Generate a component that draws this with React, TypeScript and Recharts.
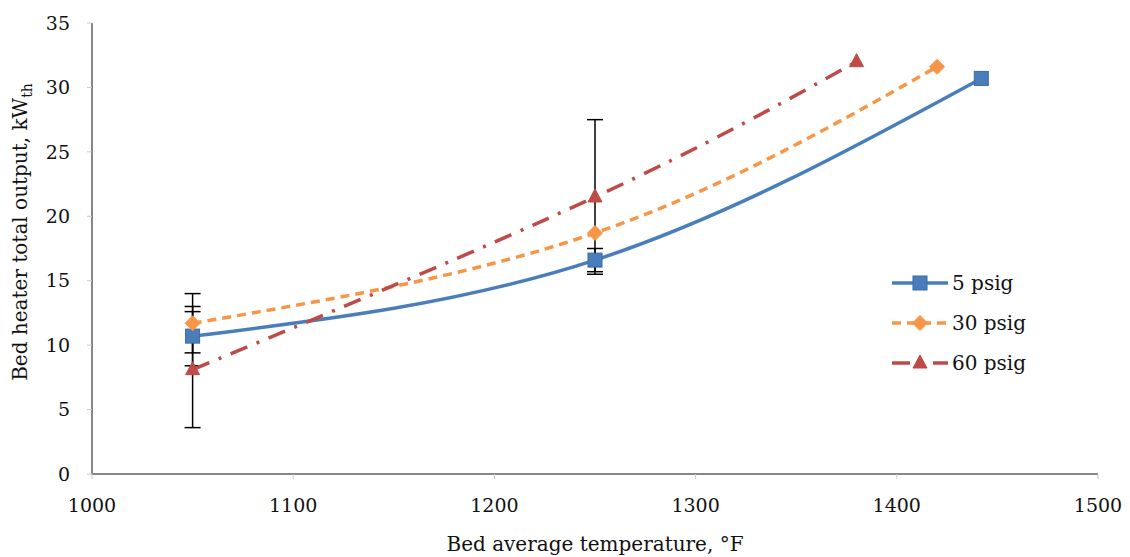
import { ErrorBar, Line, LineChart, XAxis, YAxis } from 'recharts';

// bed average temperature (°F) per test series
const temps5 = [1050, 1250, 1442];
const temps30 = [1050, 1250, 1420];
const temps60 = [1050, 1250, 1380];

// bed heater total output (kWth)
const output5 = [10.7, 16.6, 30.7];
const output30 = [11.7, 18.7, 31.6];
const output60 = [8.1, 21.5, 32.0];

// +/- error (0 = no bar)
const error5 = [2.3, 0.9, 0];
const error30 = [2.3, 0, 0];
const error60 = [4.5, 6.0, 0];

const xTicks = [1000, 1100, 1200, 1300, 1400, 1500];
const yTicks = [0, 5, 10, 15, 20, 25, 30, 35];

const seriesNames = ['5 psig', '30 psig', '60 psig'];

const FONT = '"DejaVu Serif", "Liberation Serif", serif';
const BLUE = '#4a7ebb';
const ORANGE = '#f79646';
const RED = '#be4b48';

interface Point {
    temp: number;
    value: number;
    err: number;
}

const buildSeries = (temps: number[], values: number[], errors: number[]): Point[] =>
    temps.map((temp, i) => ({ temp, value: values[i], err: errors[i] }));

const data5 = buildSeries(temps5, output5, error5);
const data30 = buildSeries(temps30, output30, error30);
const data60 = buildSeries(temps60, output60, error60);

interface DotProps {
    cx?: number;
    cy?: number;
    index?: number;
}

const SquareDot = ({ cx, cy, index }: DotProps) => {
    if (cx == null || cy == null) return null;
    return (
        <rect key={`sq-${index}`} x={cx - 7} y={cy - 7} width={14} height={14}
            fill={BLUE} stroke="#3a6aa4" strokeWidth={1} />
    );
};

const DiamondDot = ({ cx, cy, index }: DotProps) => {
    if (cx == null || cy == null) return null;
    const r = 7.5;
    return (
        <path key={`di-${index}`}
            d={`M${cx},${cy - r} L${cx + r},${cy} L${cx},${cy + r} L${cx - r},${cy} Z`}
            fill={ORANGE} stroke={ORANGE} strokeWidth={1} />
    );
};

const TriangleDot = ({ cx, cy, index }: DotProps) => {
    if (cx == null || cy == null) return null;
    return (
        <path key={`tr-${index}`}
            d={`M${cx},${cy - 8} L${cx + 7},${cy + 5} L${cx - 7},${cy + 5} Z`}
            fill={RED} stroke={RED} strokeWidth={1} />
    );
};

const legendRows = [
    { name: seriesNames[0], color: BLUE, dash: undefined as string | undefined, Marker: SquareDot },
    { name: seriesNames[1], color: ORANGE, dash: '9 6', Marker: DiamondDot },
    { name: seriesNames[2], color: RED, dash: '18 10 3 10', Marker: TriangleDot },
];

const ChartLegend = () => (
    <div style={{ position: 'absolute', left: 890, top: 269, display: 'flex', flexDirection: 'column', gap: 12 }}>
        {legendRows.map(({ name, color, dash, Marker }) => (
            <div key={name} style={{ display: 'flex', alignItems: 'center', height: 28 }}>
                <svg width={62} height={28}>
                    <line x1={2} y1={14} x2={58} y2={14} stroke={color} strokeWidth={3.5}
                        strokeDasharray={dash} />
                    <Marker cx={30} cy={14} />
                </svg>
                <span style={{ fontFamily: FONT, fontSize: 20, color: '#111' }}>{name}</span>
            </div>
        ))}
    </div>
);

const YTitle = () => (
    <text transform="translate(27, 232) rotate(-90)" textAnchor="middle" fontFamily={FONT}
        fontSize={20} fill="#111">
        Bed heater total output, kW
        <tspan fontSize={14} dy={5}>th</tspan>
    </text>
);

export default function App() {
    return (
        <div style={{ position: 'absolute', left: 0, top: 0, width: 1130, height: 557, background: '#fff' }}>
            <LineChart width={1130} height={557} margin={{ top: 23, right: 32, left: 0, bottom: 0 }}>
                <XAxis
                    type="number"
                    dataKey="temp"
                    domain={[1000, 1500]}
                    ticks={xTicks}
                    height={83}
                    stroke="#868686"
                    strokeWidth={2}
                    tickSize={5}
                    tickMargin={20}
                    tick={{ fill: '#111', fontFamily: FONT, fontSize: 19 }}
                    tickLine={{ stroke: '#c8c8c8', strokeWidth: 1 }}
                    label={{
                        value: 'Bed average temperature, °F',
                        position: 'insideBottom',
                        offset: 6,
                        fill: '#111',
                        fontFamily: FONT,
                        fontSize: 20,
                    }}
                />
                <YAxis
                    type="number"
                    domain={[0, 35]}
                    ticks={yTicks}
                    width={92}
                    stroke="#868686"
                    strokeWidth={2}
                    tickSize={5}
                    tickMargin={17}
                    tick={{ fill: '#111', fontFamily: FONT, fontSize: 19 }}
                    tickLine={{ stroke: '#c8c8c8', strokeWidth: 1 }}
                    label={{ content: <YTitle /> }}
                />
                <Line
                    data={data5}
                    dataKey="value"
                    name={seriesNames[0]}
                    type="natural"
                    stroke={BLUE}
                    strokeWidth={3.5}
                    dot={<SquareDot />}
                    activeDot={false}
                    isAnimationActive={false}
                >
                    <ErrorBar dataKey="err" direction="y" width={8} stroke="#000" strokeWidth={1.5} />
                </Line>
                <Line
                    data={data30}
                    dataKey="value"
                    name={seriesNames[1]}
                    type="natural"
                    stroke={ORANGE}
                    strokeWidth={3.5}
                    strokeDasharray="9 6"
                    dot={<DiamondDot />}
                    activeDot={false}
                    isAnimationActive={false}
                >
                    <ErrorBar dataKey="err" direction="y" width={8} stroke="#000" strokeWidth={1.5} />
                </Line>
                <Line
                    data={data60}
                    dataKey="value"
                    name={seriesNames[2]}
                    type="natural"
                    stroke={RED}
                    strokeWidth={3.5}
                    strokeDasharray="18 10 3 10"
                    dot={<TriangleDot />}
                    activeDot={false}
                    isAnimationActive={false}
                >
                    <ErrorBar dataKey="err" direction="y" width={8} stroke="#000" strokeWidth={1.5} />
                </Line>
            </LineChart>
            <ChartLegend />
        </div>
    );
}
